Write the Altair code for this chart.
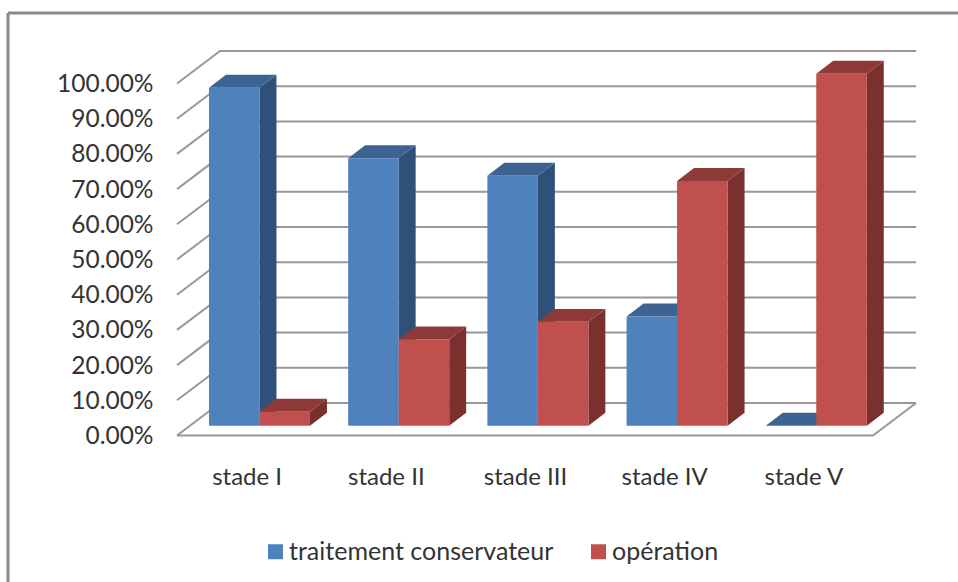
import json
import altair as alt
import pandas as pd

categories = ["stade I", "stade II", "stade III", "stade IV", "stade V"]
conservateur = [0.96, 0.76, 0.71, 0.31, 0.0]
operation = [0.04, 0.245, 0.295, 0.695, 1.0]
y_ticks = [0.0, 0.1, 0.2, 0.3, 0.4, 0.5, 0.6, 0.7, 0.8, 0.9, 1.0]
series_names = ["traitement conservateur", "opération"]
front_colors = ["#4F81BD", "#C0504D"]
top_colors = ["#3C6391", "#8E3A38"]
side_colors = ["#2F5078", "#7A302E"]

# Oblique projection, expressed in axis units (categories across, share upwards)
WALL_DX, WALL_DY = 0.309, 0.0923
BAR_SHIFT_X, BAR_SHIFT_Y = 0.0925, 0.0278
DEPTH_DX, DEPTH_DY = 0.122, 0.0369
BAR_W = 0.3628
GRID = "#989898"
INK = "#333333"
FONT = "Lato"

x_scale = alt.Scale(domain=[0, 781 / 139.2], nice=False, zero=False)
y_scale = alt.Scale(domain=[-26.5 / 352, 435.5 / 352], nice=False, zero=False)
color_scale = alt.Scale(domain=series_names, range=front_colors)

X = alt.X("x:Q", scale=x_scale, title=None,
          axis=alt.Axis(values=[i + 0.5 for i in range(len(categories))],
                        labelExpr=f"{json.dumps(categories)}[floor(datum.value)]",
                        domain=False, ticks=False, grid=False, labelPadding=3,
                        labelFontSize=24, labelFont=FONT, labelColor=INK,
                        labelOverlap=False, labelFlush=False))
Y = alt.Y("y:Q", scale=y_scale, title=None,
          axis=alt.Axis(values=y_ticks, format=".2%", domain=False, ticks=False,
                        grid=False, labelPadding=24, labelFontSize=24.5, labelFont=FONT,
                        labelColor=INK, labelOverlap=False, labelFlush=False, labelOffset=1))


def wall_rows():
    rows = []
    for v in y_ticks:
        rows.append({"x": 0, "y": v, "k": f"g{v}", "o": 0})
        rows.append({"x": WALL_DX, "y": v + WALL_DY, "k": f"g{v}", "o": 1})
        rows.append({"x": 5 + WALL_DX, "y": v + WALL_DY, "k": f"g{v}", "o": 2})
    rows.append({"x": 0, "y": 0, "k": "floor", "o": 0})
    rows.append({"x": 5, "y": 0, "k": "floor", "o": 1})
    rows.append({"x": 5 + WALL_DX, "y": WALL_DY, "k": "floor", "o": 2})
    return pd.DataFrame(rows)


def bar_frames(values, series, offset):
    fronts, tops, sides = [], [], []
    for i, v in enumerate(values):
        left = i + 0.5 + BAR_SHIFT_X + (offset - 1) * BAR_W
        right = left + BAR_W
        base = BAR_SHIFT_Y
        top = v + BAR_SHIFT_Y
        name = f"{series}{i}"
        fronts.append({"x": left, "x2": right, "y": base, "y2": top, "series": series})
        tops += [
            {"x": left, "y": top, "y2": top, "k": name},
            {"x": left + DEPTH_DX, "y": top, "y2": top + DEPTH_DY, "k": name},
            {"x": right, "y": top, "y2": top + DEPTH_DY, "k": name},
            {"x": right + DEPTH_DX, "y": top + DEPTH_DY, "y2": top + DEPTH_DY, "k": name},
        ]
        sides += [
            {"x": right, "y": base, "y2": top, "k": name},
            {"x": right + DEPTH_DX, "y": base + DEPTH_DY, "y2": top + DEPTH_DY, "k": name},
        ]
    return pd.DataFrame(fronts), pd.DataFrame(tops), pd.DataFrame(sides)


def bar_layers(values, idx, offset):
    fronts, tops, sides = bar_frames(values, series_names[idx], offset)
    side = alt.Chart(sides).mark_area(color=side_colors[idx]).encode(
        x=X, y=Y, y2="y2:Q", detail="k:N")
    top = alt.Chart(tops).mark_area(color=top_colors[idx]).encode(
        x=X, y=Y, y2="y2:Q", detail="k:N")
    front = alt.Chart(fronts).mark_bar().encode(
        x=X, x2="x2:Q", y=Y, y2="y2:Q",
        color=alt.Color(
            "series:N", scale=color_scale, title=None,
            legend=alt.Legend(orient="none", legendX=86, legendY=539, direction="horizontal",
                              columns=2, symbolType="square", symbolSize=225,
                              symbolStrokeWidth=0, labelFont=FONT, labelFontSize=25,
                              labelColor=INK, columnPadding=32, labelOffset=1,
                              gridAlign="each", labelLimit=400)))
    return [side, top, front]


walls = alt.Chart(wall_rows()).mark_line(color=GRID, strokeWidth=2).encode(
    x=X, y=Y, detail="k:N", order="o:Q")

frame_top = alt.Chart(pd.DataFrame({"a": [0]})).mark_rule(color="#8a8a8a", strokeWidth=3).encode(
    x=alt.value(-169), x2=alt.value(781), y=alt.value(13))
frame_left = alt.Chart(pd.DataFrame({"a": [0]})).mark_rule(color="#8a8a8a", strokeWidth=3).encode(
    x=alt.value(-169), y=alt.value(13), y2=alt.value(582))

chart = alt.layer(
    frame_top, frame_left, walls,
    *bar_layers(conservateur, 0, 0),
    *bar_layers(operation, 1, 1),
).properties(
    width=781, height=462,
    autosize=alt.AutoSizeParams(type="none"),
    padding={"left": 177, "top": 0, "right": 0, "bottom": 120},
    background="#ffffff",
).configure_view(stroke=None)

chart.save("out.html", embed_options={"renderer": "svg", "actions": False})
